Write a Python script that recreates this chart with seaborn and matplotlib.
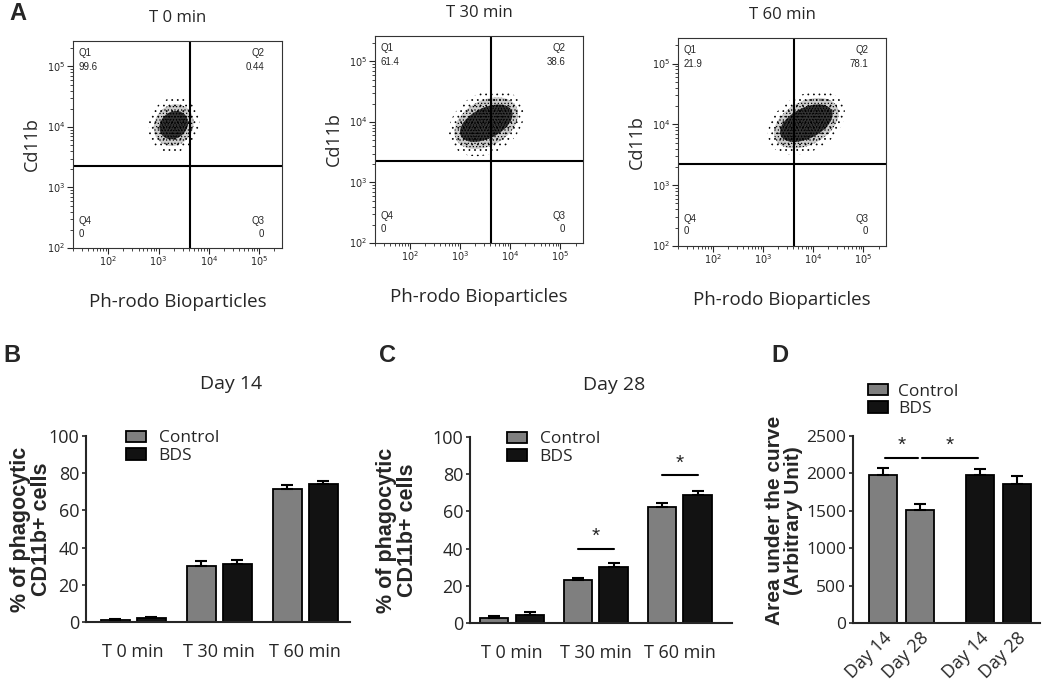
import numpy as np
import pandas as pd
import matplotlib
matplotlib.use('Agg')
import matplotlib.pyplot as plt
from matplotlib.patches import Ellipse
import seaborn as sns

sns.set_style('ticks')
plt.rcParams['font.family'] = ['Open Sans', 'DejaVu Sans']
plt.rcParams['hatch.linewidth'] = 0.5

# ---- data -------------------------------------------------------------
flow_titles = ['T 0 min', 'T 30 min', 'T 60 min']
q1_vals = ['99.6', '61.4', '21.9']
q2_vals = ['0.44', '38.6', '78.1']
q3_vals = ['0', '0', '0']
q4_vals = ['0', '0', '0']
# cloud position / spread in log10 units
cloud_x = [3.3, 3.52, 3.86]
cloud_y = [4.03, 3.98, 4.02]
core_w = [0.58, 1.1, 1.1]
core_h = [0.45, 0.52, 0.52]
outer_w = [1.03, 1.55, 1.60]
outer_h = [0.90, 1.02, 0.95]
gate_x = 3.62
gate_y = 3.35

timepoints = ['T 0 min', 'T 30 min', 'T 60 min']
groups = ['Control', 'BDS']
day14_control = [1.3, 30.3, 71.5]
day14_control_err = [0.3, 2.6, 2.1]
day14_bds = [2.0, 31.1, 74.3]
day14_bds_err = [0.7, 2.1, 1.5]
day28_control = [2.7, 23.3, 62.4]
day28_control_err = [1.2, 1.1, 2.3]
day28_bds = [4.5, 29.9, 68.6]
day28_bds_err = [1.2, 2.4, 2.5]
# significance in C: (timepoint index, line height)
day28_sig = [(1, 40), (2, 79.5)]

auc_labels = ['Day 14', 'Day 28', 'Day 14', 'Day 28']
auc_groups = ['Control', 'Control', 'BDS', 'BDS']
auc_values = [1978, 1509, 1978, 1857]
auc_err = [98, 80, 76, 112]
# significance in D: (bar a, bar b, line height)
auc_sig = [(0, 1, 2210), (1, 2, 2210)]

palette = {'Control': '#7f7f7f', 'BDS': '#121212'}

fig = plt.figure(figsize=(10.5, 6.87), dpi=100)
W, H = 1050, 687


def box(left, top, right, bottom):
    return [left / W, 1 - bottom / H, (right - left) / W, (bottom - top) / H]


# ---- A: flow plots ----------------------------------------------------
flow_boxes = [(73, 41, 282, 248), (375, 36, 583, 243), (678, 38, 886, 246)]
minor = np.log10([k * 10.0 ** n for n in range(1, 6) for k in range(2, 10)])

for i, b in enumerate(flow_boxes):
    ax = fig.add_axes(box(*b))
    ax.set_xlim(1.3, 5.45)
    ax.set_ylim(2.0, 5.42)
    layers = [(outer_w[i], outer_h[i], '...', 0.0),
              ((outer_w[i] + core_w[i]) / 2, (outer_h[i] + core_h[i]) / 2, '.....', 0.2),
              (core_w[i], core_h[i], '......', 0.75)]
    for w, h, hatch, a in layers:
        ax.add_patch(Ellipse((cloud_x[i], cloud_y[i]), w, h, angle=20,
                             facecolor=(0, 0, 0, a), edgecolor='black',
                             linewidth=0, hatch=hatch))
    ax.axvline(gate_x, color='black', lw=1.5)
    ax.axhline(gate_y, color='black', lw=1.5)
    ax.set_xticks([2, 3, 4, 5])
    ax.set_xticklabels([r'$10^{%d}$' % n for n in [2, 3, 4, 5]])
    ax.set_yticks([2, 3, 4, 5])
    ax.set_yticklabels([r'$10^{%d}$' % n for n in [2, 3, 4, 5]])
    ax.set_xticks(minor[(minor > 1.3) & (minor < 5.45)], minor=True)
    ax.set_yticks(minor[(minor > 2.0) & (minor < 5.42)], minor=True)
    ax.tick_params(which='major', length=4, width=0.8, labelsize=7, pad=1.5)
    ax.tick_params(which='minor', length=2, width=0.6)
    for s in ax.spines.values():
        s.set_linewidth(0.8)
        s.set_color('#333333')
    kw = dict(transform=ax.transAxes, fontsize=7, family=['Liberation Sans'], va='center')
    ax.text(0.025, 0.94, 'Q1', ha='left', **kw)
    ax.text(0.025, 0.875, q1_vals[i], ha='left', **kw)
    ax.text(0.914, 0.94, 'Q2', ha='right', **kw)
    ax.text(0.914, 0.875, q2_vals[i], ha='right', **kw)
    ax.text(0.025, 0.13, 'Q4', ha='left', **kw)
    ax.text(0.025, 0.07, q4_vals[i], ha='left', **kw)
    ax.text(0.914, 0.13, 'Q3', ha='right', **kw)
    ax.text(0.914, 0.07, q3_vals[i], ha='right', **kw)
    ax.set_title(flow_titles[i], fontsize=12, pad=14)
    ax.set_xlabel('Ph-rodo Bioparticles', fontsize=13.5, labelpad=17)
    ax.set_ylabel('Cd11b', fontsize=13, labelpad=4)


# ---- B / C: grouped bars ----------------------------------------------
def grouped_bars(ax, control, control_err, bds, bds_err, title):
    df = pd.DataFrame({
        'time': timepoints * 2,
        'group': ['Control'] * 3 + ['BDS'] * 3,
        'value': control + bds,
    })
    sns.barplot(data=df, x='time', y='value', hue='group', hue_order=groups,
                order=timepoints, palette=palette, width=0.84, gap=0.2,
                edgecolor='black', linewidth=1.3, errorbar=None, ax=ax)
    for cont, err in zip(ax.containers, [control_err, bds_err]):
        xs = [p.get_x() + p.get_width() / 2 for p in cont]
        ys = [p.get_height() for p in cont]
        ax.errorbar(xs, ys, yerr=[np.zeros(len(err)), err], fmt='none',
                    ecolor='black', elinewidth=1.5, capsize=4.5, capthick=1.5,
                    zorder=1)
    ax.set_ylim(0, 100)
    ax.set_yticks([0, 20, 40, 60, 80, 100])
    ax.set_xlabel('')
    ax.set_ylabel('% of phagocytic\nCD11b+ cells', fontsize=15.5,
                  fontweight='bold', family=['Liberation Sans'], linespacing=1.0)
    ax.set_title(title, fontsize=14, x=0.55, pad=34)
    ax.tick_params(axis='x', length=0, labelsize=13, pad=15)
    ax.tick_params(axis='y', length=3, width=1.2, labelsize=13, pad=2)
    sns.despine(ax=ax)
    for s in ['left', 'bottom']:
        ax.spines[s].set_linewidth(1.5)


legend_kw = dict(frameon=False, title=None, fontsize=12.5, borderpad=0,
                 borderaxespad=0, handlelength=1.15, handleheight=0.65,
                 handletextpad=0.75, labelspacing=0.1)

axB = fig.add_axes(box(86, 436, 350, 622))
grouped_bars(axB, day14_control, day14_control_err, day14_bds, day14_bds_err, 'Day 14')
axB.set_xlim(-0.55, 2.52)
axB.yaxis.set_label_coords(-0.13, 0.5)
sns.move_legend(axB, 'upper left', bbox_to_anchor=(0.15, 1.03), **legend_kw)

axC = fig.add_axes(box(470, 437, 732, 623))
grouped_bars(axC, day28_control, day28_control_err, day28_bds, day28_bds_err, 'Day 28')
axC.set_xlim(-0.5, 2.62)
axC.yaxis.set_label_coords(-0.2, 0.5)
sns.move_legend(axC, 'upper left', bbox_to_anchor=(0.14, 1.03), **legend_kw)
c_bars = [list(c) for c in axC.containers]
for idx, yline in day28_sig:
    x0 = c_bars[0][idx].get_x() + c_bars[0][idx].get_width() / 2
    x1 = c_bars[1][idx].get_x() + c_bars[1][idx].get_width() / 2
    axC.plot([x0, x1], [yline, yline], color='black', lw=1.5, clip_on=False)
    axC.text((x0 + x1) / 2, yline + 1.5, '*', ha='center', va='bottom',
             fontsize=15, family=['Liberation Sans'])

# ---- D: area under the curve ------------------------------------------
auc_pos = [0, 1, 2.62, 3.62]
axD = fig.add_axes(box(853, 436, 1040, 623))
sns.barplot(x=auc_pos, y=auc_values, hue=auc_groups, hue_order=groups,
            native_scale=True, dodge=False, palette=palette, width=0.78,
            edgecolor='black', linewidth=1.3, errorbar=None, ax=axD)
axD.errorbar(auc_pos, auc_values, yerr=[np.zeros(4), auc_err], fmt='none',
             ecolor='black', elinewidth=1.5, capsize=4.5, capthick=1.5, zorder=1)
axD.set_xlim(-0.81, 4.24)
axD.set_ylim(0, 2500)
axD.set_yticks([0, 500, 1000, 1500, 2000, 2500])
axD.set_xticks(auc_pos)
axD.set_xticklabels(auc_labels, rotation=45, ha='right', rotation_mode='anchor')
axD.tick_params(axis='x', length=0, labelsize=13, pad=4)
axD.tick_params(axis='y', length=3, width=1.2, labelsize=12.5, pad=2)
axD.set_ylabel('Area under the curve\n(Arbitrary Unit)', fontsize=15,
               fontweight='bold', family=['Liberation Sans'], linespacing=1.0)
axD.yaxis.set_label_coords(-0.265, 0.55)
sns.despine(ax=axD)
for s in ['left', 'bottom']:
    axD.spines[s].set_linewidth(1.5)
sns.move_legend(axD, 'upper left', bbox_to_anchor=(0.08, 1.28),
                **dict(legend_kw, handletextpad=0.6))
for a, b_, yline in auc_sig:
    axD.plot([auc_pos[a] + 0.05, auc_pos[b_] - 0.05], [yline, yline],
             color='black', lw=1.5, clip_on=False)
    axD.text((auc_pos[a] + auc_pos[b_]) / 2, yline + 40, '*', ha='center',
             va='bottom', fontsize=15, family=['Liberation Sans'])

# ---- panel letters ----------------------------------------------------
for letter, x, y in [('A', 18, 14), ('B', 12, 355), ('C', 387, 355), ('D', 780, 355)]:
    fig.text(x / W, 1 - y / H, letter, fontsize=17, fontweight='bold',
             family=['Liberation Sans'], ha='center', va='center')

fig.savefig('out.png', dpi=100)
